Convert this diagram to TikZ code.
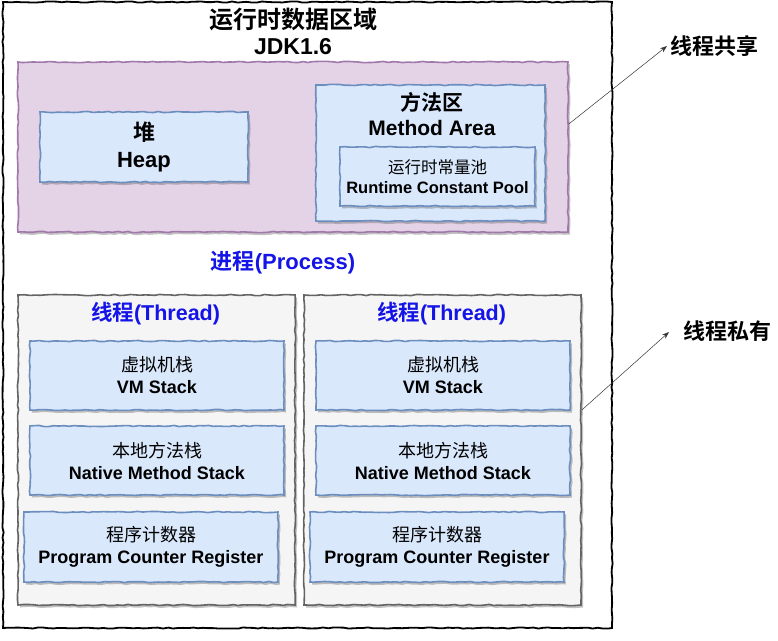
\documentclass[tikz,border=0pt]{standalone}
\usepackage{fontspec}
\setmainfont{Liberation Sans}
\newfontfamily\cjk{Noto Sans CJK SC}[BoldFont={Noto Sans CJK SC Bold}]
\usetikzlibrary{decorations.pathmorphing,shadows,arrows.meta,calc}
\definecolor{purplefill}{RGB}{228,210,230}
\definecolor{purpleline}{RGB}{160,120,170}
\definecolor{bluefill}{RGB}{218,232,252}
\definecolor{blueline}{RGB}{108,142,191}
\definecolor{grayfill}{RGB}{245,245,245}
\definecolor{grayline}{RGB}{100,100,100}
\definecolor{titleblue}{RGB}{20,20,230}
\tikzset{
  sketch/.style={decorate,decoration={random steps,segment length=5pt,amplitude=0.6pt}},
  shad/.style={drop shadow={shadow xshift=2pt,shadow yshift=-2.5pt,opacity=0.4,fill=black!60}},
  purplebox/.style={sketch,draw=purpleline,line width=1.6pt,fill=purplefill,shad},
  bluebox/.style={sketch,draw=blueline,line width=1.6pt,fill=bluefill,shad,align=center,font=\bfseries},
  graybox/.style={sketch,draw=grayline,line width=1.6pt,fill=grayfill,shad},
  frame/.style={sketch,draw=black,line width=1.8pt},
  lbl/.style={align=center,font=\bfseries,inner sep=0pt},
  itemfont/.style={font=\bfseries\fontsize{18}{22}\selectfont},
  arr/.style={draw=black!80,line width=0.5pt,-{Stealth[length=7pt,width=5pt]}}
}
\begin{document}
\begin{tikzpicture}[x=1pt,y=-1pt]
\useasboundingbox (0,0) rectangle (778,640);
% outer frame
\draw[frame] (3,2) rectangle (612,628);
\node[lbl,font=\bfseries\fontsize{24}{26}\selectfont] (title) at (293,20) {\cjk 运行时数据区域};
\node[lbl,font=\bfseries\fontsize{23}{26}\selectfont] (jdk) at (293,47) {JDK1.6};
% shared area
\node[purplebox,minimum width=550pt,minimum height=170pt] (shared) at (293,147) {};
\node[bluebox,minimum width=208pt,minimum height=70pt,font=\bfseries\fontsize{22}{27}\selectfont] (heap) at (144,147) {{\cjk 堆}\\Heap};
\node[bluebox,minimum width=229pt,minimum height=136pt] (method) at (430.5,153) {};
\node[lbl,font=\bfseries\fontsize{21}{25}\selectfont] (methodlbl) at (432,114) {{\cjk 方法区}\\Method Area};
\node[bluebox,minimum width=195pt,minimum height=59pt,inner sep=0pt,font=\bfseries\fontsize{16.5}{20}\selectfont] (pool) at (437.5,176.5) {{\cjk\mdseries 运行时常量池}\\Runtime Constant Pool};
\node[lbl,text=titleblue,font=\bfseries\fontsize{22}{24}\selectfont] (process) at (283,263) {{\cjk 进程}(Process)};
% threads
\foreach \n/\cx/\off in {a/156.5/0,b/442.5/286}{
  \node[graybox,minimum width=277pt,minimum height=310pt] (th\n) at (\cx,450) {};
  \node[lbl,text=titleblue,font=\bfseries\fontsize{21.5}{24}\selectfont] (tt\n) at (\cx-1,314) {{\cjk 线程}(Thread)};
  \node[bluebox,itemfont,minimum width=254pt,minimum height=69pt] (vm\n) at (157+\off,375.5) {{\cjk\mdseries 虚拟机栈}\\VM Stack};
  \node[bluebox,itemfont,minimum width=254pt,minimum height=69pt] (nm\n) at (157+\off,460.5) {{\cjk\mdseries 本地方法栈}\\Native Method Stack};
  \node[bluebox,itemfont,minimum width=254pt,minimum height=70pt] (pc\n) at (151+\off,547) {{\cjk\mdseries 程序计数器}\\Program Counter Register};
}
% labels and arrows
\node[lbl,font=\bfseries\fontsize{22}{24}\selectfont,anchor=west] (sharelbl) at (670,46) {\cjk 线程共享};
\node[lbl,font=\bfseries\fontsize{22}{24}\selectfont,anchor=west] (privlbl) at (683,331) {\cjk 线程私有};
\draw[arr] ([yshift=23pt]shared.east) -- ([xshift=-3pt]sharelbl.west);
\draw[arr] ([yshift=40pt]thb.east) -- ([xshift=-14pt,yshift=-1pt]privlbl.west);
\end{tikzpicture}
\end{document}
